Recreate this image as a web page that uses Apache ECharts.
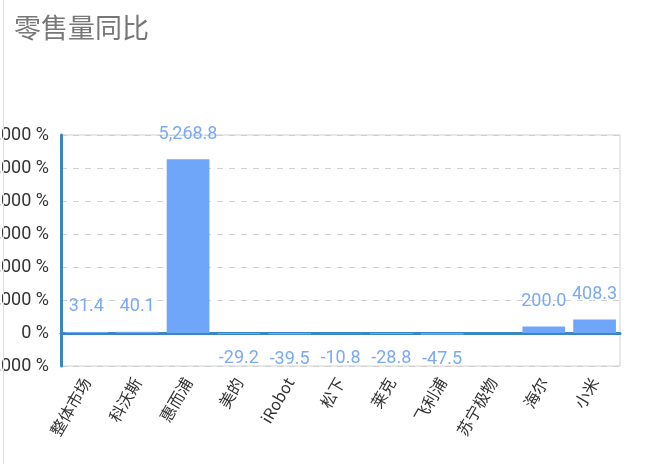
<!DOCTYPE html>
<html><head><meta charset="utf-8">
<script src="https://cdn.jsdelivr.net/npm/echarts@6/dist/echarts.min.js"></script>
<style>html,body{margin:0;padding:0;background:#fff;}#c{width:650px;height:464px;}
#edge{position:absolute;left:3px;top:0;width:1px;height:464px;background:#e0e0e0;}</style>
</head><body><div id="c"></div><div id="edge"></div>
<script>
const categories = ['整体市场','科沃斯','惠而浦','美的','iRobot','松下','莱克','飞利浦','苏宁极物','海尔','小米'];
const values = [31.4, 40.1, 5268.8, -29.2, -39.5, -10.8, -28.8, -47.5, null, 200.0, 408.3];
const chart = echarts.init(document.getElementById('c'));
chart.setOption({
  animation:false,
  title:{text:'零售量同比',left:9,top:9,textStyle:{fontSize:27,fontWeight:'normal',color:'#777',fontFamily:'Noto Sans CJK SC'}},
  grid:{left:61,right:30,top:135,bottom:98,show:true,borderColor:'#d0d0d0',borderWidth:1,containLabel:false,outerBoundsMode:'none'},
  xAxis:{type:'category',data:categories,
    axisLine:{onZero:true,lineStyle:{color:'#3a87c0',width:3}},
    axisTick:{show:false},
    axisLabel:{rotate:60,interval:0,fontSize:16,color:'#333',fontFamily:'Noto Sans CJK SC',margin:13}},
  yAxis:{type:'value',min:-1000,max:6000,interval:1000,
    axisLine:{show:true,lineStyle:{color:'#3a87c0',width:3}},
    axisTick:{show:false},
    splitLine:{lineStyle:{type:[6,6],color:'#d0d0d0'}},
    axisLabel:{fontSize:18,color:'#333',margin:12,fontFamily:'Roboto',formatter:v=>v.toLocaleString('en-US')+' %'}},
  series:[{type:'bar',barWidth:'84%',
    data:values.map(v=>v===null?null:{value:v,label:{position:v<0?'bottom':'top'}}),
    itemStyle:{color:'#70a6fa'},
    label:{show:true,distance:16,fontSize:18,color:'#7aaaf5',fontFamily:'Roboto',
      formatter:p=>p.value.toLocaleString('en-US',{minimumFractionDigits:1,maximumFractionDigits:1})}}]
});
</script></body></html>
